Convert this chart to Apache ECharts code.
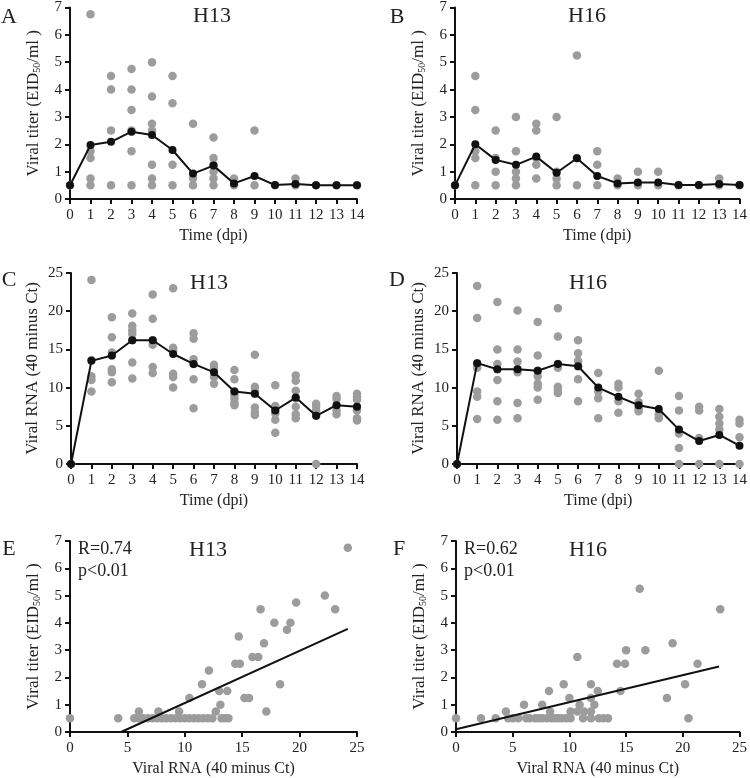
<!DOCTYPE html>
<html><head><meta charset="utf-8">
<script src="https://cdn.jsdelivr.net/npm/echarts@6/dist/echarts.min.js"></script>
<style>html,body{margin:0;padding:0;background:#fff}#c{width:750px;height:778px}</style>
</head><body><div id="c"></div>
<script>
// ---- data ----
const titerH13 = [[0.5],[6.75,1.75,1.5,0.75,0.5],[4.5,4.0,2.5,0.5],[4.75,4.0,3.25,2.5,1.75,0.5],[5.0,3.75,2.75,2.5,1.25,0.75,0.5],[4.5,3.5,1.25,0.5],[2.75,0.75,0.5],[2.25,1.5,1.25,1.0,0.75,0.5],[0.75,0.5],[2.5,0.5],[0.5],[0.75,0.5],[0.5],[0.5],[0.5]];
const titerH13Mean = [0.5,1.97,2.09,2.46,2.34,1.79,0.93,1.22,0.57,0.84,0.51,0.55,0.5,0.5,0.5];
const titerH16 = [[0.5],[4.5,3.25,1.75,1.5,0.5],[2.5,1.5,1.0,0.5],[3.0,1.75,1.0,0.75,0.5],[2.75,2.5,1.5,1.25,0.75],[3.0,1.0,0.75,0.5],[5.25,1.5,0.5],[1.75,1.25,0.5],[0.75,0.5],[1.0,0.5],[1.0,0.5],[0.5],[0.5],[0.75,0.5],[0.5]];
const titerH16Mean = [0.5,2.0,1.43,1.25,1.55,0.96,1.49,0.84,0.57,0.6,0.6,0.51,0.51,0.55,0.51];
const rnaH13 = [[0],[24.1,13.6,11.5,11.0,9.5],[19.2,16.6,14.6,14.2,12.4,12.0,10.7],[19.7,18.1,17.5,17.0,16.2,13.3,11.2],[22.2,19.0,16.2,15.6,12.7,11.9],[23.0,15.2,14.8,11.8,11.4,10.0],[17.1,16.4,13.7,13.1,11.1,7.3],[13.0,12.5,11.4,10.5],[12.3,11.1,9.5,9.0,8.5,8.0,7.7],[14.3,10.1,9.6,9.2,7.4,6.8,6.4],[10.3,7.6,7.0,6.6,5.8,4.1],[11.6,10.9,9.6,8.6,7.5,6.5,6.0],[7.9,7.5,7.0,6.3,0],[8.9,8.5,7.7,7.0,6.5],[9.2,8.8,8.4,7.5,7.0,6.0,5.7]];
const rnaH13Mean = [0,13.5,14.2,16.2,16.2,14.4,13.1,12.0,9.5,9.2,7.0,8.7,6.3,7.7,7.5];
const rnaH16 = [[0],[23.3,19.1,13.2,12.6,9.5,8.8,5.9],[21.2,15.0,13.1,12.4,11.0,8.2,5.8],[20.1,15.0,13.4,12.4,12.0,8.0,6.0],[18.6,14.2,12.2,11.5,10.5,10.0,8.4],[20.4,16.7,13.1,12.6,10.1,9.7,9.3],[16.2,14.5,13.5,12.8,11.1,8.2],[11.9,9.5,8.6,6.0],[10.5,10.0,8.2,6.7],[9.2,8.1,7.3,6.9],[12.2,6.5,6.0],[8.9,7.0,4.0,2.1,0],[7.5,7.0,3.4,0],[7.2,6.2,5.3,4.5,0],[5.8,5.3,3.5,0]];
const rnaH16Mean = [0,13.2,12.4,12.4,12.2,13.1,12.8,10.0,8.8,7.7,7.2,4.5,3.0,3.8,2.4];
const eRna   = [0,4.2,24.2,22.2,23.1,19.7,16.6,19.2,17.8,18.9,14.7,16.9,16.4,15.9,14.4,14.8,12.1,11.5,18.3,13.0,13.7,10.4,15.2,15.6,13.1,17.1,6.0,7.7,9.5,12.7,
                5.6,6.0,6.4,6.8,7.2,7.6,8.0,8.4,8.8,9.2,9.6,10.0,10.4,10.8,11.2,11.6,12.0,12.4,13.2,13.5,13.8];
const eTiter = [0.5,0.5,6.75,5.0,4.5,4.75,4.5,4.0,4.0,3.75,3.5,3.25,2.75,2.75,2.5,2.5,2.25,1.75,1.75,1.5,1.5,1.25,1.25,1.25,1.0,0.75,0.75,0.75,0.75,0.75,
                0.5,0.5,0.5,0.5,0.5,0.5,0.5,0.5,0.5,0.5,0.5,0.5,0.5,0.5,0.5,0.5,0.5,0.5,0.5,0.5,0.5];
const eFit = [[4.45,0],[24.2,3.78]];
const fRna   = [0,2.2,3.5,4.4,16.2,23.3,19.1,15.0,16.7,10.7,14.2,14.9,21.3,9.5,11.9,20.2,8.2,12.5,14.5,10.0,11.9,18.6,6.0,7.6,10.9,12.2,8.3,10.1,10.7,11.3,11.9,20.5,
                4.6,5.0,5.5,6.2,6.5,7.0,7.3,7.6,8.0,8.4,8.7,9.0,9.3,9.7,10.1,11.2,11.9,12.6,13.0,13.4];
const fTiter = [0.5,0.5,0.5,0.75,5.25,4.5,3.25,3.0,3.0,2.75,2.5,2.5,2.5,1.75,1.75,1.75,1.5,1.5,1.5,1.25,1.25,1.25,1.0,1.0,1.0,1.0,0.75,0.75,0.75,0.75,0.75,0.5,
                0.5,0.5,0.5,0.5,0.5,0.5,0.5,0.5,0.5,0.5,0.5,0.5,0.5,0.5,0.5,0.5,0.5,0.5,0.5,0.5];
const fFit = [[0,0.1],[23.2,2.4]];
const panelLetters = ['A','B','C','D','E','F'];
const panelTitles = ['H13','H16','H13','H16','H13','H16'];
const stats = [['R=0.74','p<0.01'],['R=0.62','p<0.01']];

// ---- styling / layout ----
const FONT = '"Liberation Serif", "Times New Roman", serif';
const TXT = '#222';
const GRAY = '#9c9c9c';
const grids = [
  {left:70, right:393, top:7, bottom:579},
  {left:455, right:7, top:7, bottom:579},
  {left:71, right:393, top:273, bottom:314},
  {left:457, right:7, top:273, bottom:314},
  {left:70, right:393, top:541, bottom:46},
  {left:456, right:7, top:541, bottom:46}
];
const titerName = 'Viral titer (EID{sub|50}/ml )';
const rnaName = 'Viral RNA (40 minus Ct)';
function axisBase(){
  return {
    type:'value', splitLine:{show:false},
    axisLine:{show:true, onZero:false, lineStyle:{color:'#111', width:2}},
    axisTick:{show:true, length:5, lineStyle:{color:'#111', width:2}},
    axisLabel:{fontFamily:FONT, fontSize:15, color:TXT, margin:8},
    nameLocation:'middle',
    nameTextStyle:{fontFamily:FONT, fontSize:17, color:TXT,
      rich:{sub:{fontFamily:FONT, fontSize:10, color:TXT, verticalAlign:'bottom', padding:[6,0,0,0]}}}
  };
}
function xAx(i, max, interval, name){
  const a = Object.assign(axisBase(), {gridIndex:i, min:0, max:max, interval:interval, name:name, nameGap:29,
    nameTextStyle:{fontFamily:FONT, fontSize:16, color:TXT}});
  a.axisLabel.margin = 9;
  return a;
}
function yAx(i, max, interval, name, gap){
  return Object.assign(axisBase(), {gridIndex:i, min:0, max:max, interval:interval, name:name, nameGap:gap});
}
const xAxis = [
  xAx(0,14,1,'Time (dpi)'), xAx(1,14,1,'Time (dpi)'),
  xAx(2,14,1,'Time (dpi)'), xAx(3,14,1,'Time (dpi)'),
  xAx(4,25,5,rnaName), xAx(5,25,5,rnaName)
];
const yAxis = [
  yAx(0,7,1,titerName,28), yAx(1,7,1,titerName,28),
  yAx(2,25,5,rnaName,30), yAx(3,25,5,rnaName,30),
  yAx(4,7,1,titerName,28), yAx(5,7,1,titerName,28)
];
function pts(byDay){ return byDay.flatMap((vals,d)=>vals.map(v=>[d,v])); }
function meanPts(m){ return m.map((v,d)=>[d,v]); }
function scatter(i, data){
  return {type:'scatter', xAxisIndex:i, yAxisIndex:i, data:data, symbolSize:8.5,
    itemStyle:{color:GRAY, opacity:1}, z:2, silent:true};
}
function meanLine(i, data){
  return {type:'line', xAxisIndex:i, yAxisIndex:i, data:data, symbol:'circle', symbolSize:8,
    lineStyle:{color:'#111', width:2}, itemStyle:{color:'#111'}, z:3, silent:true, animation:false};
}
function fitLine(i, data){
  return {type:'line', xAxisIndex:i, yAxisIndex:i, data:data, symbol:'none',
    lineStyle:{color:'#111', width:2}, z:3, silent:true};
}
const series = [
  scatter(0, pts(titerH13)), meanLine(0, meanPts(titerH13Mean)),
  scatter(1, pts(titerH16)), meanLine(1, meanPts(titerH16Mean)),
  scatter(2, pts(rnaH13)), meanLine(2, meanPts(rnaH13Mean)),
  scatter(3, pts(rnaH16)), meanLine(3, meanPts(rnaH16Mean)),
  scatter(4, eRna.map((x,k)=>[x,eTiter[k]])), fitLine(4, eFit),
  scatter(5, fRna.map((x,k)=>[x,fTiter[k]])), fitLine(5, fFit)
];
function txt(text, x, y, size, align){
  return {type:'text', x:x, y:y, silent:true,
    style:{text:text, font:size+'px '+FONT, fill:TXT, textAlign:align||'center', textVerticalAlign:'middle'}};
}
const letterPos = [[9,17],[397,17],[9,280],[397,280],[9,549],[399,549]];
const titlePos = [[212,16],[587,16],[209,283],[588,283],[208,550],[588,550]];
const graphic = [];
panelLetters.forEach((l,i)=>graphic.push(txt(l, letterPos[i][0], letterPos[i][1], 22)));
panelTitles.forEach((t,i)=>graphic.push(txt(t, titlePos[i][0], titlePos[i][1], 22)));
graphic.push(txt(stats[0][0], 78, 549, 18, 'left'));
graphic.push(txt(stats[0][1], 78, 571, 18, 'left'));
graphic.push(txt(stats[1][0], 464, 549, 18, 'left'));
graphic.push(txt(stats[1][1], 464, 571, 18, 'left'));

const chart = echarts.init(document.getElementById('c'), null, {renderer:'canvas'});
chart.setOption({
  animation:false, backgroundColor:'#fff',
  grid:grids, xAxis:xAxis, yAxis:yAxis, series:series, graphic:graphic
});
</script></body></html>
